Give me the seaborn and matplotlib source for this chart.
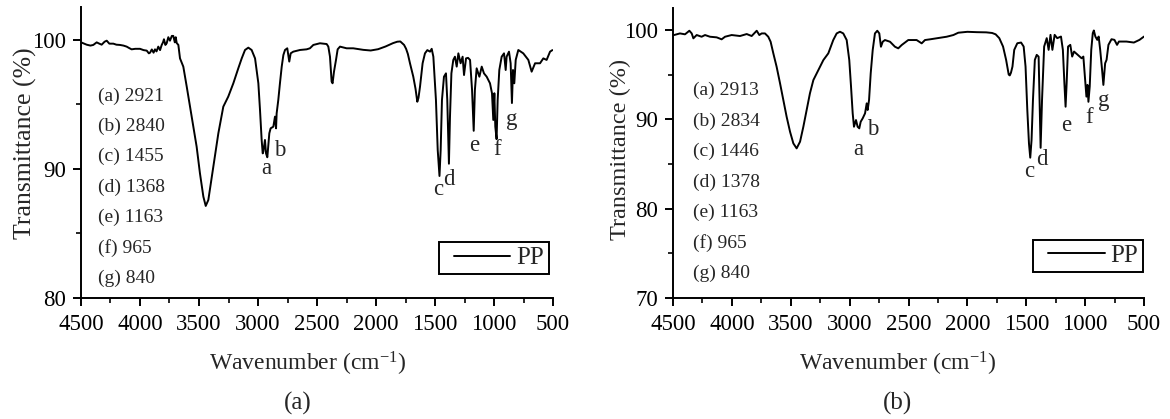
import numpy as np
import pandas as pd
import matplotlib
matplotlib.use("Agg")
import matplotlib.pyplot as plt
from matplotlib.ticker import MultipleLocator
from matplotlib.legend_handler import HandlerLine2D
import seaborn as sns

# ---- FTIR spectrum of PP, sample (a) ----
wn_a = [4494, 4452, 4420, 4396, 4367, 4345, 4325, 4300, 4282, 4260, 4226, 4200, 4170, 4140,
        4113, 4090, 4071, 4040, 4000, 3970, 3943, 3925, 3915, 3900, 3885, 3873, 3860, 3845,
        3830, 3816, 3805, 3797, 3785, 3774, 3760, 3746, 3730, 3718, 3705, 3697, 3689, 3675,
        3661, 3633, 3604, 3576, 3548, 3520, 3492, 3463, 3443, 3421, 3379, 3336, 3294, 3252,
        3209, 3167, 3138, 3110, 3082, 3054, 3025, 2997, 2983, 2969, 2960, 2955, 2941, 2932,
        2921, 2904, 2893, 2870, 2856, 2847, 2842, 2828, 2814, 2799, 2785, 2771, 2752, 2735,
        2723, 2701, 2644, 2588, 2560, 2531, 2475, 2418, 2404, 2390, 2376, 2368, 2356, 2339,
        2325, 2305, 2249, 2193, 2136, 2108, 2045, 1982, 1919, 1856, 1820, 1794, 1762, 1745,
        1730, 1712, 1684, 1665, 1650, 1640, 1627, 1605, 1585, 1565, 1542, 1528, 1514, 1492,
        1477, 1462, 1452, 1441, 1424, 1407, 1396, 1382, 1373, 1361, 1345, 1331, 1316, 1302,
        1283, 1266, 1254, 1237, 1220, 1203, 1186, 1172, 1162, 1147, 1124, 1104, 1085, 1062,
        1034, 1017, 1006, 997, 989, 978, 969, 955, 935, 915, 901, 893, 873, 859, 848, 839,
        828, 816, 794, 752, 709, 681, 652, 610, 582, 554, 525, 505]
tr_a = [99.78, 99.62, 99.55, 99.60, 99.80, 99.70, 99.62, 99.85, 99.93, 99.70, 99.70, 99.62, 99.60, 99.55,
        99.47, 99.35, 99.26, 99.30, 99.30, 99.20, 99.16, 98.95, 99.00, 99.25, 99.00, 99.26, 99.10, 99.47,
        99.20, 99.60, 99.80, 100.04, 99.60, 99.73, 100.20, 99.93, 100.30, 100.30, 99.80, 100.20, 99.75, 99.60,
        98.56, 97.92, 96.37, 94.82, 93.27, 91.72, 89.66, 87.85, 87.13, 87.59, 90.17, 92.76, 94.82, 95.60,
        96.63, 97.79, 98.56, 99.21, 99.39, 99.21, 98.56, 96.63, 94.56, 92.24, 91.20, 91.33, 92.24, 91.20,
        90.90, 92.76, 93.14, 93.27, 94.05, 93.14, 94.30, 95.34, 96.63, 97.92, 98.82, 99.21, 99.34, 98.31,
        98.95, 99.08, 99.21, 99.26, 99.34, 99.60, 99.73, 99.67, 99.47, 98.69, 96.76, 96.63, 97.53, 98.44,
        99.26, 99.47, 99.34, 99.34, 99.26, 99.22, 99.17, 99.27, 99.48, 99.74, 99.85, 99.87, 99.60, 99.30,
        98.90, 98.18, 97.14, 96.20, 95.20, 95.50, 96.37, 98.18, 98.95, 99.20, 99.08, 99.30, 98.69, 95.34,
        91.46, 89.45, 91.46, 95.34, 97.14, 97.40, 95.34, 90.40, 94.04, 97.40, 98.44, 98.69, 97.92, 98.95,
        98.18, 98.69, 97.27, 98.56, 98.60, 98.44, 96.11, 92.95, 96.11, 97.79, 97.14, 97.92, 97.40, 97.14,
        96.63, 95.86, 93.79, 95.86, 93.27, 92.30, 95.34, 97.66, 98.69, 98.95, 97.66, 98.69, 99.08, 98.18, 95.10, 97.66,
        96.63, 98.44, 99.21, 98.95, 98.44, 97.53, 98.18, 98.18, 98.56, 98.44, 99.08, 99.20]

# ---- FTIR spectrum of PP, sample (b) ----
wn_b = [4491, 4441, 4398, 4361, 4341, 4327, 4299, 4257, 4228, 4186, 4129, 4087, 4058, 4002,
        3931, 3874, 3832, 3789, 3767, 3747, 3719, 3691, 3671, 3648, 3620, 3591, 3563, 3535,
        3506, 3478, 3450, 3421, 3393, 3365, 3337, 3308, 3266, 3223, 3181, 3139, 3110, 3082,
        3054, 3025, 3003, 2988, 2974, 2963, 2946, 2932, 2918, 2906, 2889, 2869, 2855, 2847,
        2835, 2821, 2804, 2785, 2765, 2748, 2734, 2719, 2700, 2657, 2615, 2587, 2558, 2502,
        2431, 2388, 2360, 2317, 2261, 2176, 2119, 2077, 2000, 1919, 1840, 1790, 1760, 1729,
        1697, 1671, 1649, 1640, 1630, 1617, 1602, 1576, 1544, 1522, 1506, 1491, 1477, 1466,
        1455, 1443, 1427, 1411, 1395, 1387, 1378, 1366, 1348, 1326, 1310, 1294, 1278, 1259,
        1237, 1205, 1189, 1176, 1166, 1157, 1145, 1126, 1110, 1094, 1062, 1030, 1015, 999,
        989, 980, 972, 961, 948, 935, 926, 913, 897, 885, 872, 856, 845, 830, 818, 802, 776,
        751, 729, 713, 649, 586, 538, 500]
tr_b = [99.42, 99.60, 99.50, 99.90, 99.60, 99.05, 99.42, 99.23, 99.42, 99.23, 99.16, 98.94, 99.23, 99.42,
        99.31, 99.53, 99.31, 99.90, 99.42, 99.60, 99.60, 99.23, 98.67, 97.37, 95.87, 94.02, 92.15, 90.28,
        88.60, 87.30, 86.74, 87.49, 89.16, 91.03, 92.90, 94.38, 95.50, 96.62, 97.37, 98.86, 99.60, 99.79,
        99.60, 98.86, 96.62, 93.64, 90.66, 89.16, 89.91, 89.16, 88.98, 89.72, 90.10, 90.66, 91.78, 91.03,
        92.15, 95.13, 97.74, 99.60, 99.90, 99.60, 98.11, 98.67, 98.86, 98.67, 98.11, 97.93, 98.30, 98.86,
        98.86, 98.49, 98.86, 98.94, 99.05, 99.23, 99.42, 99.68, 99.78, 99.74, 99.72, 99.65, 99.50, 99.07,
        98.13, 96.64, 95.00, 94.90, 95.20, 95.89, 97.76, 98.50, 98.58, 98.13, 95.89, 91.03, 87.30, 85.70,
        87.67, 92.16, 96.64, 97.20, 97.00, 92.16, 86.80, 92.16, 98.13, 99.07, 97.76, 99.44, 97.76, 99.44,
        99.07, 99.25, 97.76, 94.02, 91.40, 94.02, 98.13, 98.32, 97.01, 97.57, 97.20, 96.82, 97.01, 94.21,
        92.53, 93.84, 91.95, 93.65, 97.76, 99.63, 99.93, 99.25, 98.88, 99.25, 97.76, 95.52, 93.84, 96.26, 96.64, 98.32, 98.95,
        98.88, 98.32, 98.69, 98.69, 98.58, 98.88, 99.25]

# ---- band assignments ----
peak_letters = ["a", "b", "c", "d", "e", "f", "g"]
bands_a = [2921, 2840, 1455, 1368, 1163, 965, 840]
bands_b = [2913, 2834, 1446, 1378, 1163, 965, 840]
# letter label anchors (wavenumber, transmittance) beside each band
lab_wn_a = [2932, 2814, 1477, 1381, 1169, 977, 850]
lab_tr_a = [90.05, 91.46, 88.42, 89.14, 91.85, 91.52, 93.79]
lab_wn_b = [2925, 2802, 1472, 1370, 1160, 963, 840]
lab_tr_b = [86.66, 88.80, 84.20, 85.45, 89.30, 90.15, 92.15]

x_ticks = [4500, 4000, 3500, 3000, 2500, 2000, 1500, 1000, 500]

sns.set_style("ticks")
plt.rcParams["font.family"] = ["Liberation Serif", "DejaVu Serif"]
plt.rcParams["mathtext.default"] = "regular"

fig = plt.figure(figsize=(11.70, 4.19), dpi=100)
fig.patch.set_facecolor("white")

W, H = 1170.0, 419.0
ax_a = fig.add_axes([81 / W, 1 - 298 / H, 472 / W, 290.5 / H])
ax_b = fig.add_axes([673 / W, 1 - 298 / H, 471 / W, 290.5 / H])

panels = [
    dict(ax=ax_a, wn=wn_a, tr=tr_a, bands=bands_a, lwn=lab_wn_a, ltr=lab_tr_a,
         ylim=(80, 102.5), list_x=0.036, list_y0=0.695, list_dy=0.1043,
         leg_anchor=(0.9915, 0.0817), ylab_x=(25 - 81) / 472, ylab_y=0.532, ylab_fs=18.5,
         xlab_x=0.479, tag="(a)", tag_x=298),
    dict(ax=ax_b, wn=wn_b, tr=tr_b, bands=bands_b, lwn=lab_wn_b, ltr=lab_tr_b,
         ylim=(70, 102.5), list_x=0.0418, list_y0=0.7136, list_dy=0.1047,
         leg_anchor=(0.9985, 0.0894), ylab_x=(620.5 - 673) / 471, ylab_y=0.513, ylab_fs=17.5,
         xlab_x=0.4777, tag="(b)", tag_x=897),
]

# legend sample line starts a little inside the frame
line_handler = HandlerLine2D(xpad=0.4)

for p in panels:
    ax = p["ax"]
    df = pd.DataFrame({"Wavenumber": p["wn"], "Transmittance": p["tr"]})
    sns.lineplot(data=df, x="Wavenumber", y="Transmittance", ax=ax, color="black",
                 linewidth=1.4, estimator=None, label="PP")

    ax.set_xlim(4500, 500)
    ax.set_ylim(*p["ylim"])
    ax.set_xticks(x_ticks)
    ax.xaxis.set_minor_locator(MultipleLocator(250))
    ax.yaxis.set_major_locator(MultipleLocator(10))
    ax.yaxis.set_minor_locator(MultipleLocator(5))

    for side in ("top", "right"):
        ax.spines[side].set_visible(False)
    for side in ("left", "bottom"):
        ax.spines[side].set_linewidth(1.4)
        ax.spines[side].set_color("black")

    ax.tick_params(axis="both", which="major", direction="out", length=5.5, width=1.4,
                   labelsize=16.5, colors="black")
    ax.tick_params(axis="both", which="minor", direction="out", length=3.3, width=1.4)
    ax.tick_params(axis="x", which="major", pad=6)
    ax.tick_params(axis="y", which="major", pad=5)

    ax.set_xlabel(r"Wavenumber (cm$^{\mathregular{-1}}$)", fontsize=17)
    ax.xaxis.label.set(va="center", ha="center")
    ax.xaxis.set_label_coords(p["xlab_x"], (298 - 364) / 290.5)
    ax.set_ylabel("Transmittance (%)", fontsize=p["ylab_fs"])
    ax.yaxis.label.set(va="center", ha="center")
    ax.yaxis.set_label_coords(p["ylab_x"], p["ylab_y"])

    # list of band positions
    for i, (let, band) in enumerate(zip(peak_letters, p["bands"])):
        ax.text(p["list_x"], p["list_y0"] - i * p["list_dy"], f"({let}) {band}",
                transform=ax.transAxes, fontsize=14, ha="left", va="center")

    # letters beside the absorption bands
    for let, x, y in zip(peak_letters, p["lwn"], p["ltr"]):
        ax.text(x, y, let, fontsize=16.5, ha="center", va="center")

    handles, labels = ax.get_legend_handles_labels()
    leg = ax.legend(handles, labels, loc="lower right", bbox_to_anchor=p["leg_anchor"],
                    borderaxespad=0, frameon=True, fancybox=False, edgecolor="black",
                    framealpha=1, fontsize=18, handlelength=2.65, handletextpad=0.24,
                    borderpad=0.2, handler_map={handles[0]: line_handler})
    leg.get_frame().set_linewidth(1.4)
    for line in leg.get_lines():
        line.set_linewidth(1.4)

    fig.text(p["tag_x"] / W, 1 - 403 / H, p["tag"], fontsize=18, ha="center", va="center")

fig.savefig("out.png", dpi=100, facecolor="white")
